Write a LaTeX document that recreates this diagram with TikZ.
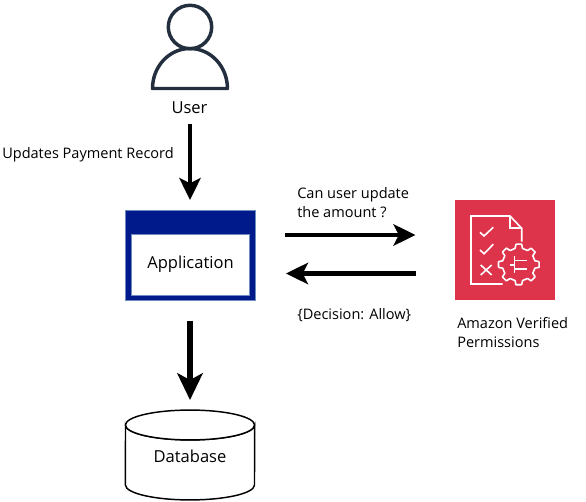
\documentclass[tikz,border=0pt]{standalone}
\usepackage{fontspec}
\setmainfont{Open Sans}
\usetikzlibrary{arrows.meta}
\definecolor{navy}{HTML}{001A8C}
\definecolor{navyedge}{HTML}{6C8EBF}
\definecolor{ink}{HTML}{232F3E}
\definecolor{avp}{HTML}{DD344C}
\tikzset{
  x=0.75pt,y=-0.75pt,
  flow/.style={line width=3.7pt,-{Stealth[length=16.5pt,width=16pt,inset=4pt]}},
  flowbig/.style={line width=4.4pt,-{Stealth[length=20pt,width=19pt,inset=5pt]}},
  lbl/.style={font=\fontsize{10.9pt}{14.5pt}\selectfont,inner sep=0pt,align=left},
  biglbl/.style={font=\fontsize{12.4pt}{14pt}\selectfont,inner sep=0pt},
  icon/.style={draw=white,line width=1.2pt,line join=miter},
}
\begin{document}
\begin{tikzpicture}
\useasboundingbox (0,0) rectangle (586,502);
% User icon
\draw[ink,line width=2.6pt] (190,27) circle (21.7*0.75pt);
\draw[ink,line width=2.6pt,line join=round] (152.5,88.5) arc[start angle=180,end angle=0,x radius=28.1pt,y radius=30pt] -- cycle;
\node[biglbl] (user) at (189.5,108) {User};
% Application
\node[draw=navyedge,fill=navy,line width=0.7pt,minimum width=97.5pt,minimum height=67.5pt,inner sep=0pt] (app) at (190.5,255) {};
\node[fill=white,draw=navyedge,line width=0.4pt,minimum width=88.5pt,minimum height=46pt,inner sep=0pt] (appin) at (190.3,264.8) {};
\node[biglbl] at (190.5,264) {Application};
% Database
\draw[line width=1.1pt,fill=white] (125.5,425) arc[start angle=180,end angle=360,x radius=48.4pt,y radius=11.2pt] -- (254.5,485) arc[start angle=0,end angle=180,x radius=48.4pt,y radius=-11.2pt] -- cycle;
\draw[line width=1.1pt,fill=white] (190,425) ellipse[x radius=48.4pt,y radius=11.2pt];
\node[biglbl] (db) at (190,456) {Database};
% AVP tile
\node[fill=avp,minimum width=75pt,minimum height=75pt,inner sep=0pt,anchor=north west] (avptile) at (455,200) {};
\draw[icon] (502.7,284) -- (471,284) -- (471,216) -- (510,216) -- (521.7,228.3) -- (521.7,241.7);
\draw[icon] (510,216) -- (510,228.3) -- (521.7,228.3);
\draw[icon] (480,232.3) -- (484,236) -- (493.3,227.3);
\draw[icon] (480,250) -- (484,253.7) -- (493.3,244.3);
\draw[icon] (480.7,265) -- (491.7,275) (480.7,275) -- (491.7,265);
% gear
\draw[icon,line join=round]
  \foreach \a in {0,45,...,315} {
    ({518.8+20.5*cos(\a-8)},{264.5+20.5*sin(\a-8)}) -- ({518.8+20.5*cos(\a+8)},{264.5+20.5*sin(\a+8)}) -- ({518.8+16.5*cos(\a+13)},{264.5+16.5*sin(\a+13)}) -- ({518.8+16.5*cos(\a+32)},{264.5+16.5*sin(\a+32)}) -- ({518.8+20.5*cos(\a+37)},{264.5+20.5*sin(\a+37)})
  };
\draw[icon] (527,260.5) -- (514.3,260.5) (514.3,256.5) -- (514.3,273) (514.3,269) -- (527,269) (509.5,264.8) -- (514.3,264.8);
\node[lbl,anchor=north west] (avplabel) at (457,317) {Amazon Verified\\Permissions};
% Connectors
\coordinate (userOut) at (190,124);
\coordinate (userIn) at (190,200);
\coordinate (dbIn) at (190,400);
\coordinate (appOut) at (190,321);
\coordinate (reqStart) at (285,235);
\coordinate (reqEnd) at (415.5,235);
\coordinate (respStart) at (415.5,273.5);
\coordinate (respEnd) at (286,273.5);
\draw[flow] (userOut) -- (userIn);
\draw[flowbig] (appOut) -- (dbIn);
\draw[flow] (reqStart) -- (reqEnd);
\draw[flow] (respStart) -- (respEnd);
\node[lbl,anchor=west] (updates) at (2,155) {Updates Payment Record};
\node[lbl,anchor=north west] (canuser) at (297,187) {Can user update\\the amount ?};
\node[lbl,anchor=west] (decision) at (297,315) {\{Decision: Allow\}};
\end{tikzpicture}
\end{document}
